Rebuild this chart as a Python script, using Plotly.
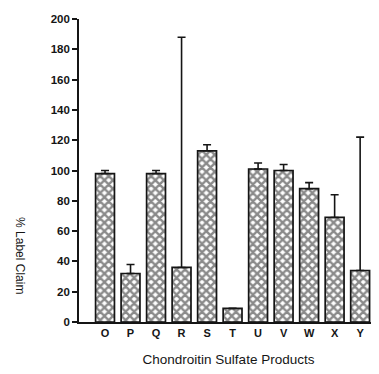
import plotly.graph_objects as go

categories = ["O", "P", "Q", "R", "S", "T", "U", "V", "W", "X", "Y"]
values = [98, 32, 98, 36, 113, 9, 101, 100, 88, 69, 34]
err_plus = [2, 6, 2, 152, 4, 0, 4, 4, 4, 15, 88]
y_ticks = [0, 20, 40, 60, 80, 100, 120, 140, 160, 180, 200]

FONT = "Liberation Sans, Arial, sans-serif"

fig = go.Figure()
fig.add_trace(go.Bar(
    x=list(range(len(categories))),
    y=values,
    width=0.74,
    marker=dict(
        color="white",
        line=dict(color="#151515", width=1.7),
        pattern=dict(shape="x", fgcolor="#151515", bgcolor="white", size=6, solidity=0.65),
    ),
    error_y=dict(type="data", symmetric=False, array=err_plus,
                 arrayminus=[0] * len(values), color="#151515", thickness=1.6, width=4),
))

# page body has an 8px margin: compensate so the plot lands where the reference is
fig.update_layout(
    width=379, height=374,
    margin=dict(l=71, r=9, t=11, b=60, autoexpand=False),
    paper_bgcolor="white", plot_bgcolor="white",
    showlegend=False,
    font=dict(family=FONT, color="#151515"),
    xaxis=dict(
        range=[-1.02, 10.7],
        tickmode="array", tickvals=list(range(len(categories))), ticktext=categories,
        ticks="", showgrid=False, zeroline=False,
        showline=True, linecolor="#151515", linewidth=1.6,
        tickfont=dict(size=11, family=FONT, weight="bold"),
        title=dict(text="Chondroitin Sulfate Products", font=dict(size=13.5), standoff=17),
    ),
    yaxis=dict(
        range=[0, 200],
        tickmode="array", tickvals=y_ticks,
        ticks="outside", ticklen=5, tickwidth=1.6, tickcolor="#151515",
        showgrid=False, zeroline=False,
        showline=True, linecolor="#151515", linewidth=1.6,
        tickfont=dict(size=11.5, family=FONT, weight="bold"),
    ),
    annotations=[dict(
        text="% Label Claim", textangle=90, showarrow=False,
        xref="paper", yref="paper", x=0, y=0.221, xshift=-59,
        xanchor="center", yanchor="middle",
        font=dict(size=12, family=FONT, color="#151515"),
    )],
)

fig.write_html("out.html")
